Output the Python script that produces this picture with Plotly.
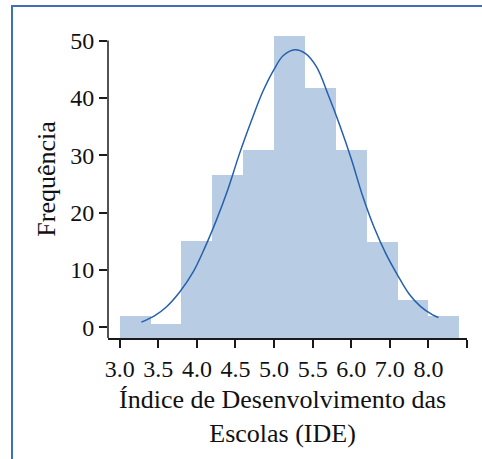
import plotly.graph_objects as go

# ---- data ----
bin_starts = [3.0, 3.4, 3.8, 4.2, 4.6, 5.0, 5.4, 5.8, 6.2, 6.6, 7.0]
bin_width = 0.4
frequencies = [2.0, 0.6, 15.0, 26.6, 31.0, 50.8, 41.8, 31.0, 14.9, 4.8, 2.0]

curve_x = [3.28, 3.45, 3.60, 3.78, 3.95, 4.10, 4.25, 4.40, 4.55, 4.70, 4.85,
           5.00, 5.12, 5.27, 5.40, 5.55, 5.70, 5.85, 6.00, 6.15, 6.30, 6.45,
           6.60, 6.75, 6.90, 7.05, 7.13]
curve_y = [0.9, 2.0, 3.5, 6.2, 9.6, 13.8, 18.6, 24.0, 30.2, 35.8, 41.0,
           45.0, 47.4, 48.4, 47.8, 45.4, 40.6, 35.3, 29.4, 22.8, 17.3, 12.8,
           9.1, 5.8, 3.6, 2.2, 1.7]

tick_vals = [3.0, 3.5, 4.0, 4.5, 5.0, 5.5, 6.0, 6.5, 7.0, 7.5]
tick_text = ["3.0", "3.5", "4.0", "4.5", "5.0", "5.5", "6.0", "7.0", "8.0", ""]
y_ticks = [0, 10, 20, 30, 40, 50]

x_title = "Índice de Desenvolvimento das<br>Escolas (IDE)"
y_title = "Frequência"

# ---- layout params ----
Y_MIN = -1.87
Y_MAX = 51.5
FONT = "Liberation Serif"
AX = "#1a1a1a"

bar_centers = [s + bin_width / 2 for s in bin_starts]

fig = go.Figure()
fig.add_trace(go.Bar(
    x=bar_centers,
    y=[f - Y_MIN for f in frequencies],
    base=Y_MIN,
    width=bin_width,
    marker=dict(color="#b8cce4", line=dict(width=0)),
    hoverinfo="skip",
))
fig.add_trace(go.Scatter(
    x=curve_x, y=curve_y, mode="lines",
    line=dict(color="#2560ad", width=1.5, shape="spline", smoothing=1.0),
    hoverinfo="skip",
))

fig.update_layout(
    width=482, height=459,
    margin=dict(l=108, r=15, t=32, b=121),
    paper_bgcolor="white", plot_bgcolor="white",
    showlegend=False, bargap=0,
    font=dict(family=FONT, size=24, color="#111"),
    xaxis=dict(
        range=[2.848, 7.5], tickmode="array", tickvals=tick_vals, ticktext=tick_text,
        showgrid=False, zeroline=False, showline=True, linecolor=AX, linewidth=1.5,
        ticks="outside", ticklen=8, tickwidth=1.5, tickcolor=AX,
        tickfont=dict(family=FONT, size=24, color="#111"),
    ),
    yaxis=dict(
        range=[Y_MIN, Y_MAX], tickmode="array", tickvals=y_ticks,
        showgrid=False, zeroline=False, showline=False,
        ticks="outside", ticklen=8, tickwidth=1.5, tickcolor=AX,
        tickfont=dict(family=FONT, size=24, color="#111"),
    ),
    shapes=[
        dict(type="line", xref="paper", yref="y", x0=0, x1=0, y0=Y_MIN, y1=50,
             line=dict(color=AX, width=1.5)),
        dict(type="rect", xref="paper", yref="paper",
             x0=-0.2674, x1=1.07, y0=-0.45, y1=1.085,
             line=dict(color="#3c70b8", width=2), fillcolor="rgba(0,0,0,0)"),
    ],
    annotations=[
        dict(text=x_title, xref="paper", yref="paper", x=0.4847, y=-0.255,
             xanchor="center", yanchor="middle", showarrow=False,
             font=dict(family=FONT, size=26, color="#111")),
        dict(text=y_title, xref="paper", yref="paper", x=-0.1735, y=0.5196,
             xanchor="center", yanchor="middle", showarrow=False, textangle=-90,
             font=dict(family=FONT, size=26, color="#111")),
    ],
)

fig.write_html(
    "out.html",
    config={"displayModeBar": False},
    post_script="document.body.style.margin='0';document.body.style.overflow='hidden';",
)
